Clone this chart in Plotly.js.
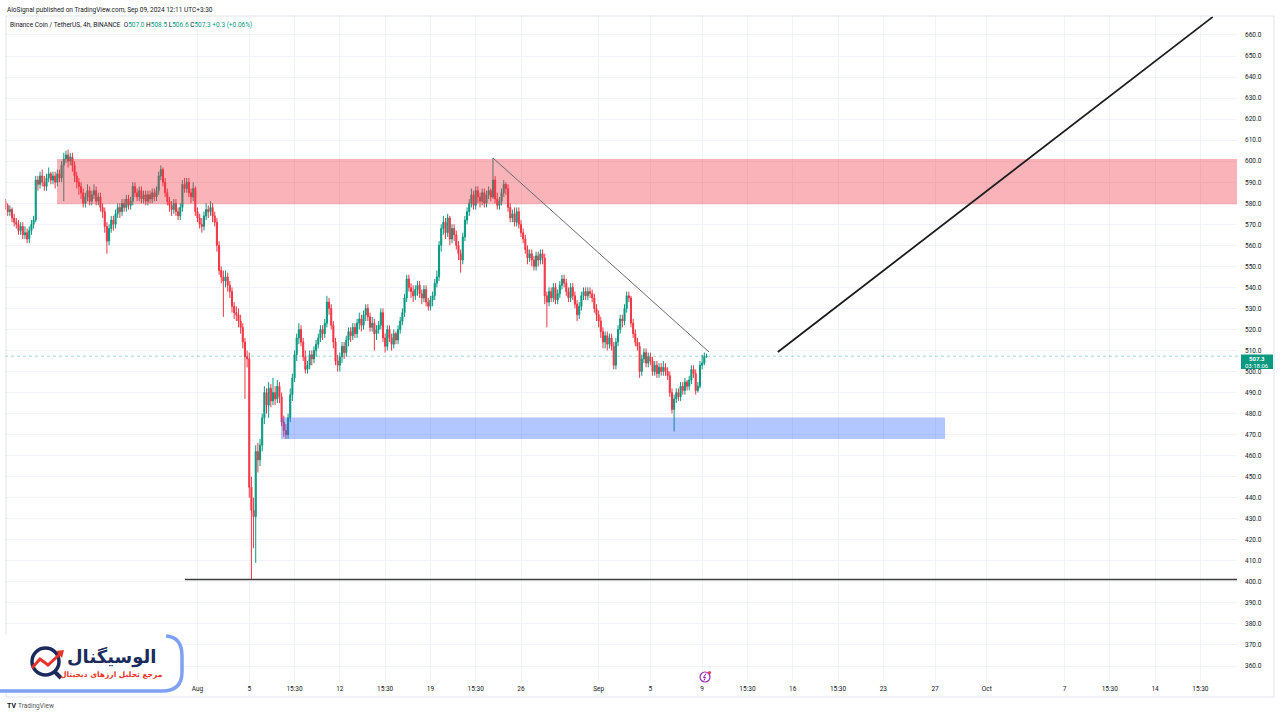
<!DOCTYPE html>
<html><head><meta charset="utf-8">
<script src="https://cdn.plot.ly/plotly-3.0.1.min.js"></script>
<style>html,body{margin:0;padding:0;background:#fff;overflow:hidden}#chart{width:1280px;height:720px}</style>
</head><body><div id="chart"></div>
<script>
// ---------------- DATA (BNB/USDT 4h) ----------------
const firstBarTime = "2024-07-17 03:30";
const firstOpen = 578;
const closes = [
581,579,576,577,573,571, 570,567,569,565,566,563, 567,570,572,591,589,593, 590,588,592,594,591,593,
590,594,592,598,601,603, 600,602,598,593,590,588, 585,580,583,586,581,584, 586,581,583,578,576,569,
562,568,572,570,575,578, 576,580,578,582,579,581, 588,585,583,586,582,584, 581,584,582,585,583,586,
593,596,590,585,581,579, 577,580,576,574,578,589, 587,590,585,583,587,576,
573,570,569,574,577,576, 578,574,571,560,548,545, 543,545,541,538,531,528, 527,524,521,514,507,506,
445,434,431,462,458,465, 478,490,484,492,486,490, 487,493,488,476,472,470, 478,489,497,508,516,520,
514,507,501,503,508,506, 510,513,516,520,518,523, 533,530,522,514,505,503, 507,512,509,515,519,517,
521,518,523,525,522,527, 530,526,521,523,518,520, 522,528,516,512,520,516, 513,518,515,520,524,528,
535,544,540,538,536,539, 541,537,535,539,533,531, 534,536,542,545,560,568, 571,566,573,563,568,565,
560,556,553,564,572,576, 580,584,579,586,583,581, 585,580,584,586,583,591, 582,579,581,585,589,587,
578,573,575,571,576,570, 566,563,558,554,556,553, 550,555,553,556,554,536, 533,538,535,540,534,537,
541,544,542,538,535,540, 536,532,527,531,536,538, 536,538,537,535,530,527,
524,519,514,517,513,516, 512,503,514,520,525,524, 530,536,535,523,518,514, 512,500,506,509,504,507,
505,500,503,499,502,500, 502,500,498,490,482,487, 490,488,493,491,495,493, 496,501,499,491,493,503,
504,507.0,507.3];
const highs = [
583,582,580,579,578,575, 573,572,571,571,569,568, 569,572,574,593,593,595, 596,593,594,597,595,595,
595,596,596,600,604,605, 605.5,604,604,600,595,592, 590,587,585,589,588,586, 589,588,585,585,580,578,
571,570,574,574,577,580, 580,582,582,584,584,583, 590,590,587,588,588,586, 586,586,586,587,587,588,
595,598,597,592,587,583, 581,582,582,578,580,591, 592,592,592,587,590,588,
578,575,573,576,580,579, 581,580,576,573,562,550, 548,548,547,543,540,533, 531,530,527,523,516,510,
509,450,440,465,466,468, 480,493,492,495,494,497, 493,496,495,490,479,475, 480,492,499,510,518,523,
522,516,510,505,510,510, 512,515,518,522,522,525, 536,535,532,524,516,508, 509,514,514,517,521,521,
523,523,525,528,527,529, 532,532,528,526,525,522, 524,530,530,518,522,522, 518,520,519,522,526,530,
537,546,546,542,541,541, 543,543,539,541,541,535, 536,538,544,548,562,570, 574,573,575,574,570,570,
567,562,558,566,574,578, 582,587,586,588,588,585, 587,587,586,588,587,601.5, 593,585,583,587,591,590,
589,580,577,578,578,578, 572,568,565,560,558,558, 555,557,557,558,558,556, 538,540,540,542,542,539,
543,546,546,544,540,542, 542,538,534,533,538,540, 540,540,540,539,537,532,
529,526,521,519,519,518, 518,514,516,522,527,527, 532,538,538,536,525,520, 516,514,508,511,511,509,
509,507,505,505,504,504, 505,504,502,500,492,489, 492,492,495,495,497,496, 498,503,503,501,495,505,
508,509,508.5];
const lows = [
576,577,574,574,571,569, 568,565,565,563,563,561, 561,565,568,571,586,587, 588,586,586,590,589,589,
587,588,590,590,581,599, 597,598,595,590,587,584, 582,578,578,581,579,579, 582,579,579,576,573,566,
556,560,566,567,568,573, 573,574,576,576,577,577, 579,583,581,581,580,580, 579,579,580,580,581,581,
584,591,588,583,579,576, 574,575,574,572,572,576, 585,585,583,580,581,574,
571,568,566,567,572,573, 574,571,569,557,546,542, 526,540,538,535,528,525, 524,521,518,511,487,502,
440,401,416,409,452,455, 462,475,480,478,483,484, 484,485,485,474,469,468, 468,476,486,495,505,513,
512,505,499,499,501,503, 504,507,511,514,515,516, 521,527,520,511,503,500, 500,504,506,507,512,514,
515,516,516,520,519,520, 524,524,519,519,510,515, 518,520,514,509,510,514, 510,511,513,513,518,522,
526,533,538,535,533,534, 536,535,532,533,531,529, 529,531,534,540,543,557, 565,563,564,560,561,562,
558,553,547,551,562,570, 574,578,577,577,580,578, 579,578,578,582,581,582, 580,577,577,579,583,584,
576,571,571,569,569,568, 564,561,556,551,552,550, 548,548,550,551,551,532, 521,531,533,533,532,532,
535,539,540,536,533,533, 534,530,524,525,529,534, 534,534,535,533,528,524,
521,516,511,511,510,511, 510,501,501,512,518,521, 522,528,533,521,516,512, 510,497,498,504,502,502,
503,498,498,497,497,498, 498,498,496,488,480,471.5, 485,486,486,489,489,491, 491,494,497,489,490,492,
501,503,506.6];
const lastPrice = 507.3;
const countdown = "03:18:06";
const tickDates = ["2024-08-01 03:30","2024-08-05 03:30","2024-08-08 15:30","2024-08-12 03:30","2024-08-15 15:30",
  "2024-08-19 03:30","2024-08-22 15:30","2024-08-26 03:30","2024-09-01 03:30","2024-09-05 03:30","2024-09-09 03:30",
  "2024-09-12 15:30","2024-09-16 03:30","2024-09-19 15:30","2024-09-23 03:30","2024-09-27 03:30","2024-10-01 03:30",
  "2024-10-07 03:30","2024-10-10 15:30","2024-10-14 03:30","2024-10-17 15:30"];
const tickLabels = ["Aug","5","15:30","12","15:30","19","15:30","26","Sep","5","9","15:30","16","15:30","23","27","Oct","7","15:30","14","15:30"];
const priceTicks = [360,370,380,390,400,410,420,430,440,450,460,470,480,490,500,510,520,530,540,550,560,570,580,590,600,610,620,630,640,650,660];
// drawings (levels)
const supplyZone = {from:"2024-07-21 07:00", top:601.0, bottom:579.5};
const demandZone = {from:"2024-08-07 14:20", to:"2024-09-27 22:00", top:478.2, bottom:467.9};
const supportLevel = {from:"2024-07-31 04:20", price:401.1};
const trendLine = {t0:"2024-08-23 23:35", p0:601.5, t1:"2024-09-09 16:15", p1:509.3};
const projection = {t0:"2024-09-14 23:50", p0:509.3, t1:"2024-10-18 14:30", p1:668.6};

// ---------------- BUILD ----------------
function barTimes(start, n){
  const [d,h] = start.split(" "); const [Y,M,D] = d.split("-").map(Number); const [hh,mm] = h.split(":").map(Number);
  let t = Date.UTC(Y,M-1,D,hh,mm); const out=[];
  for(let i=0;i<n;i++){ out.push(new Date(t).toISOString().slice(0,16).replace("T"," ")); t += 4*3600e3; }
  return out;
}
const times = barTimes(firstBarTime, closes.length);
const opens = closes.map((c,i)=> i===0 ? firstOpen : closes[i-1]);

const UP="#089981", DN="#f23645";
const ML=5, MR=43, MT=15, MB=38, W=1280, H=720;
const PW=W-ML-MR, PH=H-MT-MB;
const px=x=>(x-ML)/PW, py=y=>(MT+PH-y)/PH;
const FONT="Roboto, 'Liberation Sans', sans-serif";

const trace = {
  type:"candlestick", x:times, open:opens, high:highs, low:lows, close:closes,
  increasing:{line:{color:UP,width:1},fillcolor:UP},
  decreasing:{line:{color:DN,width:1},fillcolor:DN},
  whiskerwidth:0, hoverinfo:"skip", showlegend:false
};

const shapes = [
  {type:"rect", xref:"x", yref:"y", x0:supplyZone.from, x1:"2024-10-30", y0:supplyZone.bottom, y1:supplyZone.top,
   fillcolor:"rgba(242,54,69,0.38)", line:{width:0}, layer:"above"},
  {type:"rect", xref:"x", yref:"y", x0:demandZone.from, x1:demandZone.to, y0:demandZone.bottom, y1:demandZone.top,
   fillcolor:"rgba(41,98,255,0.36)", line:{width:0}, layer:"above"},
  {type:"line", xref:"x", yref:"y", x0:supportLevel.from, x1:"2024-10-30", y0:supportLevel.price, y1:supportLevel.price,
   line:{color:"#3d3d3d", width:1.6}, layer:"above"},
  {type:"line", xref:"x", yref:"y", x0:trendLine.t0, x1:trendLine.t1, y0:trendLine.p0, y1:trendLine.p1,
   line:{color:"#6b6b6b", width:1}, layer:"above"},
  {type:"line", xref:"x", yref:"y", x0:projection.t0, x1:projection.t1, y0:projection.p0, y1:projection.p1,
   line:{color:"#1c1c1c", width:1.8}, layer:"above"},
  {type:"line", xref:"paper", yref:"y", x0:0, x1:px(1241), y0:lastPrice, y1:lastPrice,
   line:{color:"rgba(8,153,129,0.5)", width:0.8, dash:"dot"}, layer:"above"},
  {type:"line", xref:"paper", yref:"paper", x0:px(6), x1:px(1274), y0:py(16), y1:py(16), line:{color:"#e0e3eb", width:1}},
  {type:"line", xref:"paper", yref:"paper", x0:px(6), x1:px(6), y0:py(16), y1:py(697), line:{color:"#e0e3eb", width:1}},
  {type:"line", xref:"paper", yref:"paper", x0:px(1274), x1:px(1274), y0:py(16), y1:py(697), line:{color:"#e0e3eb", width:1}},
  {type:"line", xref:"paper", yref:"paper", x0:px(6), x1:px(1274), y0:py(697), y1:py(697), line:{color:"#e0e3eb", width:1}},
  {type:"rect", xref:"paper", yref:"paper", x0:px(1241), x1:px(1273), y0:py(369), y1:py(354.5),
   fillcolor:UP, line:{width:0}, layer:"above"},
  {type:"circle", xref:"paper", yref:"paper", x0:px(700), x1:px(710), y0:py(682), y1:py(672),
   fillcolor:"#ffffff", line:{color:"#9c27b0", width:1.2}, layer:"above"},
  {type:"path", xref:"paper", yref:"paper",
   path:`M${px(706)},${py(673.5)} L${px(703.5)},${py(677.5)} L${px(705.5)},${py(677.5)} L${px(704)},${py(680.5)}`,
   line:{color:"#9c27b0", width:1}, layer:"above"},
  {type:"circle", xref:"paper", yref:"paper", x0:px(708), x1:px(711), y0:py(674), y1:py(671),
   fillcolor:"#f23645", line:{width:0}, layer:"above"},
  {type:"path", xref:"paper", yref:"paper",
   path:`M${px(0)},${py(635)} L${px(162)},${py(635)} Q${px(183)},${py(635)} ${px(183)},${py(656)} L${px(183)},${py(672)} Q${px(183)},${py(692)} ${px(162)},${py(692)} L${px(0)},${py(692)} Z`,
   fillcolor:"#ffffff", line:{width:0}, layer:"above"},
  {type:"path", xref:"paper", yref:"paper",
   path:`M${px(166)},${py(636)} Q${px(182)},${py(637)} ${px(182)},${py(656)} L${px(182)},${py(672)} Q${px(182)},${py(691)} ${px(162)},${py(691)} L${px(0)},${py(691)}`,
   fillcolor:"rgba(0,0,0,0)", line:{color:"#7ea1f4", width:3.5}, layer:"above"},
  {type:"circle", xref:"paper", yref:"paper", x0:px(32), x1:px(59), y0:py(675), y1:py(648),
   fillcolor:"rgba(0,0,0,0)", line:{color:"#1b2a5c", width:3.5}, layer:"above"},
  {type:"line", xref:"paper", yref:"paper", x0:px(54), x1:px(61), y0:py(671), y1:py(678),
   line:{color:"#1b2a5c", width:4}, layer:"above"},
  {type:"path", xref:"paper", yref:"paper",
   path:`M${px(32)},${py(668)} L${px(40)},${py(659)} L${px(48)},${py(665)} L${px(60)},${py(654)}`,
   fillcolor:"rgba(0,0,0,0)", line:{color:"#e8332a", width:3}, layer:"above"},
  {type:"path", xref:"paper", yref:"paper",
   path:`M${px(56)},${py(651)} L${px(64)},${py(650)} L${px(62)},${py(658)} Z`,
   fillcolor:"#e8332a", line:{width:0}, layer:"above"}
];

const annotations = [
  {xref:"paper", yref:"paper", x:px(5), y:py(10), xanchor:"left", yanchor:"middle", showarrow:false,
   text:"AloSignal published on TradingView.com, Sep 09, 2024 12:11 UTC+3:30", font:{family:FONT, size:6.5, color:"#131722"}},
  {xref:"paper", yref:"paper", x:px(8), y:py(25), xanchor:"left", yanchor:"middle", showarrow:false,
   text:"Binance Coin / TetherUS, 4h, BINANCE  O<span style='color:#089981'>507.0</span> H<span style='color:#089981'>508.5</span> L<span style='color:#089981'>506.6</span> C<span style='color:#089981'>507.3</span> <span style='color:#089981'>+0.3 (+0.06%)</span>",
   font:{family:FONT, size:6.5, color:"#131722"}},
  {xref:"paper", yref:"paper", x:px(1257), y:py(358.5), xanchor:"center", yanchor:"middle", showarrow:false,
   text:"<b>"+lastPrice.toFixed(1)+"</b>", font:{family:FONT, size:6, color:"#ffffff"}},
  {xref:"paper", yref:"paper", x:px(1257), y:py(365.5), xanchor:"center", yanchor:"middle", showarrow:false,
   text:countdown, font:{family:FONT, size:6, color:"#ffffff"}},
  {xref:"paper", yref:"paper", x:px(111), y:py(657), xanchor:"center", yanchor:"middle", showarrow:false,
   text:"<b>الوسیگنال</b>", font:{family:"'DejaVu Sans', sans-serif", size:18, color:"#1b2a5c"}},
  {xref:"paper", yref:"paper", x:px(111), y:py(674), xanchor:"center", yanchor:"middle", showarrow:false,
   text:"<b>مرجع تحلیل ارزهای دیجیتال</b>", font:{family:"'DejaVu Sans', sans-serif", size:7.5, color:"#e8332a"}},
  {xref:"paper", yref:"paper", x:px(5), y:py(706), xanchor:"left", yanchor:"middle", showarrow:false,
   text:"<b>TV</b>", font:{family:FONT, size:7, color:"#131722"}},
  {xref:"paper", yref:"paper", x:px(16), y:py(706), xanchor:"left", yanchor:"middle", showarrow:false,
   text:"TradingView", font:{family:FONT, size:6.5, color:"#555555"}}
];

const layout = {
  width:W, height:H, margin:{l:ML, r:MR, t:MT, b:MB, pad:0},
  paper_bgcolor:"#ffffff", plot_bgcolor:"#ffffff", showlegend:false, dragmode:false,
  xaxis:{type:"date", range:["2024-07-17 06:28","2024-10-20 11:28"], rangeslider:{visible:false},
    tickmode:"array", tickvals:tickDates, ticktext:tickLabels, ticks:"", showline:false, zeroline:false,
    showgrid:true, gridcolor:"#f0f3fa", gridwidth:1, tickfont:{family:FONT, size:6.5, color:"#131722"},
    ticklabelstandoff:1, fixedrange:true},
  yaxis:{side:"right", range:[352.4, 669.5], tickmode:"array", tickvals:priceTicks, ticktext:priceTicks.map(v=>v.toFixed(1)),
    ticks:"", showline:false, zeroline:false, showgrid:true, gridcolor:"#f0f3fa", gridwidth:1,
    tickfont:{family:FONT, size:6.5, color:"#131722"}, ticklabelstandoff:7, fixedrange:true},
  shapes, annotations
};
Plotly.newPlot("chart", [trace], layout, {staticPlot:true, displayModeBar:false});
</script></body></html>
